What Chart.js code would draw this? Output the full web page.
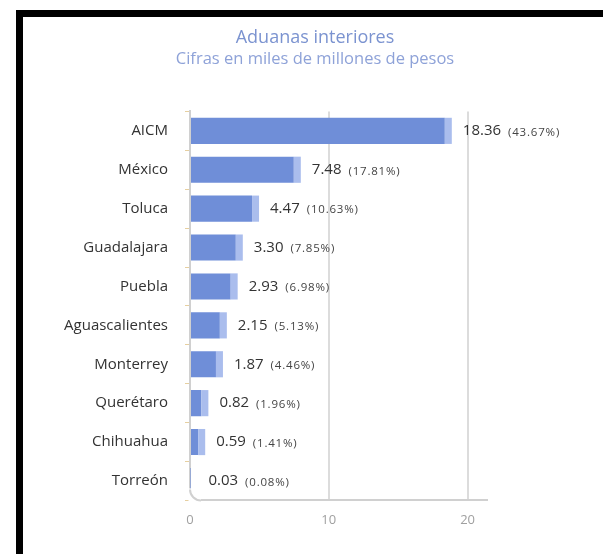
<!DOCTYPE html>
<html>
<head>
<meta charset="utf-8">
<script src="https://cdn.jsdelivr.net/npm/chart.js@4"></script>
<style>
  html, body { margin: 0; padding: 0; background: #fff; }
  #frame { position: absolute; left: 16px; top: 10px; width: 700px; height: 700px; border: 7px solid #000; box-sizing: border-box; }
  #wrap { position: absolute; left: 0; top: 0; width: 603px; height: 554px; }
</style>
</head>
<body>
<div id="frame"></div>
<div id="wrap"><canvas id="c" width="603" height="554"></canvas></div>
<script>
const categories = ["AICM", "México", "Toluca", "Guadalajara", "Puebla", "Aguascalientes", "Monterrey", "Querétaro", "Chihuahua", "Torreón"];
const values = [18.36, 7.48, 4.47, 3.30, 2.93, 2.15, 1.87, 0.82, 0.59, 0.03];
const shares = ["43.67%", "17.81%", "10.63%", "7.85%", "6.98%", "5.13%", "4.46%", "1.96%", "1.41%", "0.08%"];
const xTicks = [0, 10, 20];

const FONT = "'Open Sans', 'Noto Sans', sans-serif";
const PAD_L = 27;

const labelPlugin = {
  id: 'barLabels',
  afterDatasetsDraw(chart) {
    const ctx = chart.ctx;
    const meta = chart.getDatasetMeta(0);
    ctx.save();
    meta.data.forEach((bar, i) => {
      const h = bar.height;
      const top = bar.y - h / 2;
      if (values[i] > 0.1) {
        ctx.fillStyle = 'rgba(165,185,236,0.95)';
        ctx.fillRect(bar.x, top, 7, h);
      }
      const x0 = bar.x + 18;
      ctx.textBaseline = 'middle';
      ctx.textAlign = 'left';
      ctx.fillStyle = '#333';
      ctx.font = "15px " + FONT;
      const vt = values[i].toFixed(2);
      ctx.fillText(vt, x0, bar.y);
      const w = ctx.measureText(vt).width;
      ctx.font = "11.5px " + FONT;
      ctx.fillStyle = '#444';
      try { ctx.letterSpacing = '0.8px'; } catch (e) {}
      ctx.fillText("(" + shares[i] + ")", x0 + w + 7, bar.y + 1.5);
      try { ctx.letterSpacing = '0px'; } catch (e) {}
    });
    ctx.restore();
  },
  afterDraw(chart) {
    const ctx = chart.ctx;
    const a = chart.chartArea;
    const r = 11;
    ctx.save();
    ctx.fillStyle = '#fff';
    ctx.fillRect(a.left - 1.5, a.bottom - r - 1, r + 1.5, r + 2.5);
    ctx.strokeStyle = '#d0d0d0';
    ctx.lineWidth = 2;
    ctx.beginPath();
    ctx.arc(a.left + r, a.bottom - r, r, Math.PI, Math.PI / 2, true);
    ctx.stroke();
    ctx.restore();
  }
};

new Chart(document.getElementById('c'), {
  type: 'bar',
  data: {
    labels: categories,
    datasets: [{
      data: values,
      backgroundColor: '#6f8ed8',
      borderWidth: 0,
      barPercentage: 0.8,
      categoryPercentage: 0.84,
      yAxisID: 'y'
    }]
  },
  options: {
    indexAxis: 'y',
    responsive: false,
    animation: false,
    layout: { padding: { left: PAD_L, right: 0, top: 0, bottom: 14 } },
    plugins: {
      legend: { display: false },
      tooltip: { enabled: false },
      title: {
        display: true,
        text: 'Aduanas interiores',
        color: '#7b93d0',
        font: { family: FONT, size: 18, weight: 'normal' },
        padding: { top: 27, bottom: 1 }
      },
      subtitle: {
        display: true,
        text: 'Cifras en miles de millones de pesos',
        color: '#8ea2d8',
        font: { family: FONT, size: 16.5, weight: 'normal' },
        padding: { top: 0, bottom: 42 }
      }
    },
    scales: {
      x: {
        min: 0,
        max: 21.4,
        ticks: {
          stepSize: 10,
          color: '#a0a0a0',
          font: { family: FONT, size: 13 },
          padding: 12
        },
        afterBuildTicks(scale) {
          scale.ticks = xTicks.map(v => ({ value: v }));
        },
        grid: {
          color: (c) => c.tick && c.tick.value === 0 ? 'rgba(0,0,0,0)' : '#dcdcdc',
          lineWidth: 2,
          drawTicks: false
        },
        border: { color: '#d0d0d0', width: 2 }
      },
      y: {
        afterFit(scale) { scale.width = 190 - PAD_L; },
        ticks: {
          color: '#333',
          font: { family: FONT, size: 15 },
          padding: 17
        },
        grid: {
          drawOnChartArea: false,
          offset: true,
          tickLength: 5,
          color: '#e6cfa0',
          lineWidth: 1
        },
        border: { color: '#d0d0d0', width: 2 }
      },
      yRight: {
        position: 'right',
        type: 'category',
        labels: categories,
        afterFit(scale) { scale.width = 603 - 487; },
        ticks: { display: false },
        grid: { display: false, drawTicks: false },
        border: { display: false }
      }
    }
  },
  plugins: [labelPlugin]
});
</script>
</body>
</html>
